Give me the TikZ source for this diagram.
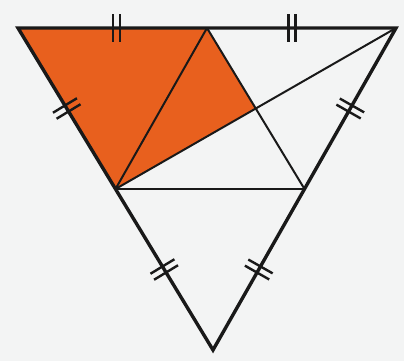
\documentclass[tikz,border=0pt]{standalone}
\usetikzlibrary{decorations.markings,calc}
\definecolor{bgcol}{RGB}{243,244,244}
\definecolor{fillorange}{RGB}{232,96,30}
\tikzset{
  outerline/.style={line width=3.4pt,line join=miter,black!90},
  innerline/.style={line width=2pt,black!90},
  dticks/.style={postaction={decorate},decoration={markings,
    mark=at position #1 with {\draw[line width=2.4pt,black!90] (-3.5pt,-14pt)--(-3.5pt,14pt) (3.5pt,-14pt)--(3.5pt,14pt);}}}
}
\begin{document}
\begin{tikzpicture}[x=1pt,y=-1pt]
\useasboundingbox (0,0) rectangle (404,361);
\fill[bgcol] (0,0) rectangle (404,361);
\coordinate (A) at (18,28);
\coordinate (B) at (396,28);
\coordinate (C) at (213,350);
\coordinate (M) at ($(A)!0.5!(B)$);
\coordinate (L) at ($(A)!0.5!(C)$);
\coordinate (R) at ($(B)!0.5!(C)$);
\coordinate (P) at ($(L)!0.5!(B)$);
\fill[fillorange] (A) -- (M) -- (P) -- (L) -- cycle;
\draw[innerline] (L) -- (M);
\draw[innerline] (L) -- (B);
\draw[innerline] (M) -- (R);
\draw[innerline] (L) -- (R);
\draw[outerline] (A) -- (B) -- (C) -- cycle;
\path[dticks=0.52] (A) -- (M);
\path[dticks=0.45] (M) -- (B);
\path[dticks=0.5] (A) -- (L);
\path[dticks=0.5] (L) -- (C);
\path[dticks=0.5] (B) -- (R);
\path[dticks=0.5] (R) -- (C);
\end{tikzpicture}
\end{document}
